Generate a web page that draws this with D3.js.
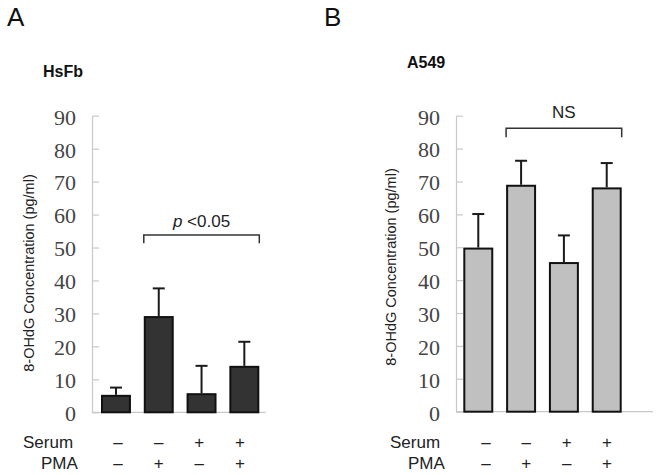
<!DOCTYPE html>
<html>
<head>
<meta charset="utf-8">
<script src="https://cdn.jsdelivr.net/npm/d3@7"></script>
<style>
  html, body { margin: 0; padding: 0; background: #fff; }
  svg { display: block; }
</style>
</head>
<body>
<svg id="chart" width="661" height="475"></svg>
<script>
// ---- data ----
const groups = ["g1", "g2", "g3", "g4"];
const serumSigns = ["\u2013", "\u2013", "+", "+"];
const pmaSigns = ["\u2013", "+", "\u2013", "+"];
const yTicks = [0, 10, 20, 30, 40, 50, 60, 70, 80, 90];
const hsfbMean = [5.3, 29.2, 5.8, 14.1];
const hsfbErr = [2.2, 8.4, 8.3, 7.3];
const a549Mean = [49.9, 69.0, 45.5, 68.2];
const a549Err = [10.2, 7.3, 8.1, 7.4];

const svg = d3.select("#chart");

const panels = [
  {
    letter: "A", title: "HsFb", mean: hsfbMean, err: hsfbErr, fill: "#333333",
    letterX: 7, letterY: 26, titleX: 43, titleY: 77,
    axisX: 92, y0: 412.3, y90: 115.7, bandRange: [101, 259.3], baseEnd: 265.7,
    yLabelX: 29, yLabelY: 273,
    bracket: { from: 1, to: 3, y: 235, drop: 8.3, text: "p", textRest: " <0.05", textY: 226.5 },
    signRange: [118, 240], serumX: 23, pmaX: 41
  },
  {
    letter: "B", title: "A549", mean: a549Mean, err: a549Err, fill: "#c0c0c0",
    letterX: 324, letterY: 26, titleX: 407, titleY: 68,
    axisX: 456, y0: 411.7, y90: 115.7, bandRange: [463.3, 621.7], baseEnd: 653,
    yLabelX: 391, yLabelY: 267,
    bracket: { from: 1, to: 3, y: 128.3, drop: 9, text: null, textRest: "NS", textY: 118.3 },
    signRange: [486, 607], serumX: 390, pmaX: 408
  }
];

const sans = "'Liberation Sans', Arial, Helvetica, sans-serif";
const serif = "'Liberation Serif', 'Times New Roman', serif";

panels.forEach(p => {
  const g = svg.append("g");
  const y = d3.scaleLinear().domain([0, 90]).range([p.y0, p.y90]);
  const x = d3.scaleBand().domain(groups).range(p.bandRange).paddingInner(0.3).paddingOuter(0);
  const sx = d3.scalePoint().domain(groups).range(p.signRange);

  // panel letter & title
  g.append("text").attr("x", p.letterX).attr("y", p.letterY)
    .attr("font-family", sans).attr("font-size", 26).attr("fill", "#111").text(p.letter);
  g.append("text").attr("x", p.titleX).attr("y", p.titleY)
    .attr("font-family", sans).attr("font-size", 16).attr("font-weight", "bold").attr("fill", "#111").text(p.title);

  // baseline
  g.append("line").attr("x1", p.axisX).attr("x2", p.baseEnd)
    .attr("y1", y(0)).attr("y2", y(0)).attr("stroke", "#c8c8c8").attr("stroke-width", 1.2);

  // y axis
  const ax = g.append("g").attr("transform", `translate(${p.axisX},0)`)
    .call(d3.axisLeft(y).tickValues(yTicks).tickSizeInner(-7).tickSizeOuter(0).tickPadding(16));
  ax.select(".domain").attr("stroke", "#c8c8c8").attr("stroke-width", 1.2);
  ax.selectAll(".tick line").attr("stroke", "#c8c8c8").attr("stroke-width", 1.2);
  ax.selectAll(".tick text").attr("font-family", serif).attr("font-size", 22)
    .attr("fill", "#444").attr("dy", "0.38em");

  // y label
  g.append("text").attr("transform", `translate(${p.yLabelX},${p.yLabelY}) rotate(-90)`)
    .attr("text-anchor", "middle").attr("font-family", sans).attr("font-size", 14.5)
    .attr("fill", "#222").attr("dy", "0.35em").text("8-OHdG Concentration (pg/ml)");

  // error bars
  const data = groups.map((k, i) => ({ k, m: p.mean[i], e: p.err[i] }));
  g.selectAll(".err").data(data).enter().append("line")
    .attr("x1", d => x(d.k) + x.bandwidth() / 2).attr("x2", d => x(d.k) + x.bandwidth() / 2)
    .attr("y1", d => y(d.m)).attr("y2", d => y(d.m + d.e))
    .attr("stroke", "#1a1a1a").attr("stroke-width", 2);
  g.selectAll(".cap").data(data).enter().append("line")
    .attr("x1", d => x(d.k) + x.bandwidth() / 2 - 6).attr("x2", d => x(d.k) + x.bandwidth() / 2 + 6)
    .attr("y1", d => y(d.m + d.e)).attr("y2", d => y(d.m + d.e))
    .attr("stroke", "#1a1a1a").attr("stroke-width", 2);

  // bars
  g.selectAll(".bar").data(data).enter().append("rect")
    .attr("x", d => x(d.k) + 1).attr("width", x.bandwidth() - 2)
    .attr("y", d => y(d.m) + 1).attr("height", d => y(0) - y(d.m) - 1)
    .attr("fill", p.fill).attr("stroke", "#111").attr("stroke-width", 2);

  // bracket
  const b = p.bracket;
  const bx1 = x(groups[b.from]), bx2 = x(groups[b.to]) + x.bandwidth();
  g.append("path")
    .attr("d", `M${bx1},${b.y + b.drop}V${b.y}H${bx2}V${b.y + b.drop}`)
    .attr("fill", "none").attr("stroke", "#333").attr("stroke-width", 1.5);
  const t = g.append("text").attr("x", (bx1 + bx2) / 2).attr("y", b.textY)
    .attr("text-anchor", "middle").attr("font-family", sans).attr("font-size", 17).attr("fill", "#222");
  if (b.text) t.append("tspan").attr("font-style", "italic").text(b.text);
  t.append("tspan").text(b.textRest);

  // condition labels
  g.append("text").attr("x", p.serumX).attr("y", 448)
    .attr("font-family", sans).attr("font-size", 17).attr("fill", "#222").text("Serum");
  g.append("text").attr("x", p.pmaX).attr("y", 469)
    .attr("font-family", sans).attr("font-size", 17).attr("fill", "#222").text("PMA");
  g.selectAll(".ss").data(groups).enter().append("text")
    .attr("x", d => sx(d)).attr("y", 448).attr("text-anchor", "middle")
    .attr("font-family", sans).attr("font-size", 17).attr("fill", "#222")
    .text((d, i) => serumSigns[i]);
  g.selectAll(".ps").data(groups).enter().append("text")
    .attr("x", d => sx(d)).attr("y", 469).attr("text-anchor", "middle")
    .attr("font-family", sans).attr("font-size", 17).attr("fill", "#222")
    .text((d, i) => pmaSigns[i]);
});
</script>
</body>
</html>
